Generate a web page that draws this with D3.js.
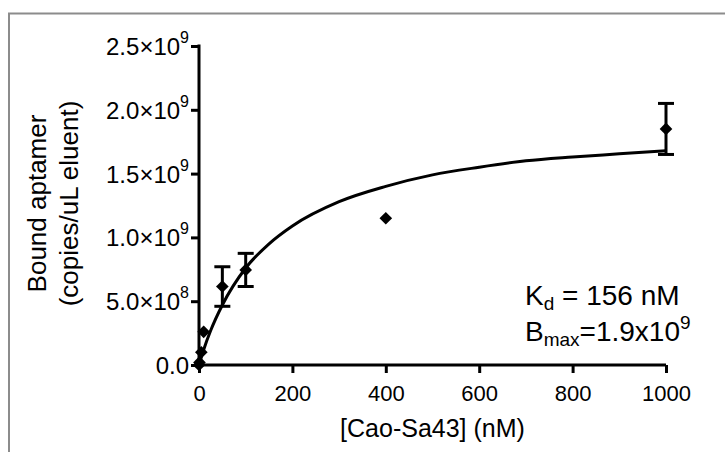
<!DOCTYPE html>
<html>
<head>
<meta charset="utf-8">
<script src="https://cdn.jsdelivr.net/npm/d3@7"></script>
<style>
  body { margin: 0; background: #fff; }
  text { font-family: "Liberation Sans", Arial, sans-serif; fill: #000; }
</style>
</head>
<body>
<div id="chart"></div>
<script>
// measured points: concentration (nM), mean bound aptamer, error (+/-)
const concNM = [0, 1, 5, 10, 50, 100, 400, 1000];
const boundMean = [0.0, 0.02e9, 0.1e9, 0.26e9, 0.615e9, 0.745e9, 1.15e9, 1.85e9];
const boundErr = [0, 0, 0, 0, 0.155e9, 0.13e9, 0, 0.2e9];

// fitted saturation curve
const fitX = [0, 10, 25, 50, 100, 150, 200, 300, 400, 500, 600, 700, 800, 900, 1000];
const fitY = [0, 0.12e9, 0.27e9, 0.47e9, 0.76e9, 0.95e9, 1.09e9, 1.28e9, 1.40e9, 1.49e9, 1.55e9, 1.60e9, 1.63e9, 1.655e9, 1.68e9];

// axis ticks
const xTicks = [0, 200, 400, 600, 800, 1000];
const yTicks = [0, 0.5e9, 1.0e9, 1.5e9, 2.0e9, 2.5e9];

const W = 725, H = 452;
const margin = {top: 46, right: 59, bottom: 87, left: 199};

const svg = d3.select("#chart").append("svg")
    .attr("width", W)
    .attr("height", H);

// gray outer frame
svg.append("rect")
    .attr("x", 9).attr("y", 13.5)
    .attr("width", 800).attr("height", 600)
    .attr("fill", "none")
    .attr("stroke", "#8c8c8c")
    .attr("stroke-width", 2);

const x = d3.scaleLinear().domain([0, 1000]).range([margin.left, W - margin.right]);
const y = d3.scaleLinear().domain([0, 2.5e9]).range([H - margin.bottom, margin.top]);

// x axis
const gx = svg.append("g")
    .attr("transform", `translate(0,${y(0)})`)
    .call(d3.axisBottom(x).tickValues(xTicks).tickFormat(d3.format("d"))
      .tickSize(8).tickSizeOuter(0).tickPadding(8));
gx.select(".domain").attr("stroke-width", 3).attr("d", `M${x(0) - 3},0H${x(1000)}`);
gx.selectAll(".tick line").attr("stroke-width", 3);
gx.selectAll(".tick text").attr("font-size", 22).attr("dy", "0.9em");

// y axis with scientific labels
const gy = svg.append("g")
    .attr("transform", `translate(${x(0)},0)`)
    .call(d3.axisLeft(y).tickValues(yTicks).tickSize(8).tickSizeOuter(0).tickPadding(2));
gy.select(".domain").attr("stroke-width", 3).attr("d", `M0,${y(2.5e9) - 1.5}V${y(0) + 1.5}`);
gy.selectAll(".tick line").attr("stroke-width", 3);
gy.selectAll(".tick text")
    .attr("font-size", 24)
    .attr("dy", "0.35em")
    .each(function (d) {
      const t = d3.select(this).text("");
      if (d === 0) { t.text("0.0"); return; }
      const exp = Math.floor(Math.log10(d));
      const mant = (d / Math.pow(10, exp)).toFixed(1);
      t.append("tspan").text(mant + "\u00d710");
      t.append("tspan").attr("font-size", 16).attr("dy", "-0.75em").text(exp);
    });

// axis titles
svg.append("text")
    .attr("x", (x(0) + x(1000)) / 2)
    .attr("y", 437)
    .attr("text-anchor", "middle")
    .attr("font-size", 25)
    .text("[Cao-Sa43] (nM)");

const yTitle = svg.append("text")
    .attr("transform", `translate(46,${(y(0) + y(2.5e9)) / 2 - 2}) rotate(-90)`)
    .attr("text-anchor", "middle")
    .attr("font-size", 26);
yTitle.append("tspan").attr("x", 0).attr("dy", 0).text("Bound aptamer");
yTitle.append("tspan").attr("x", 0).attr("dy", 32).text("(copies/uL eluent)");

// fit curve
const fitData = fitX.map((v, i) => ({x: v, y: fitY[i]}));
svg.append("path")
    .datum(fitData)
    .attr("fill", "none")
    .attr("stroke", "#000")
    .attr("stroke-width", 3)
    .attr("d", d3.line().x(d => x(d.x)).y(d => y(d.y)).curve(d3.curveMonotoneX));

// points with error bars
const pts = concNM.map((c, i) => ({c, m: boundMean[i], e: boundErr[i]}));
const capW = 8;
const eb = svg.append("g").attr("stroke", "#000").attr("stroke-width", 3);
pts.filter(d => d.e > 0).forEach(d => {
  eb.append("line").attr("x1", x(d.c)).attr("x2", x(d.c)).attr("y1", y(d.m - d.e)).attr("y2", y(d.m + d.e));
  eb.append("line").attr("x1", x(d.c) - capW).attr("x2", x(d.c) + capW).attr("y1", y(d.m + d.e)).attr("y2", y(d.m + d.e));
  eb.append("line").attr("x1", x(d.c) - capW).attr("x2", x(d.c) + capW).attr("y1", y(d.m - d.e)).attr("y2", y(d.m - d.e));
});

svg.append("g").selectAll("path")
  .data(pts)
  .join("path")
    .attr("transform", d => `translate(${x(d.c)},${y(d.m)}) rotate(45)`)
    .attr("d", d3.symbol(d3.symbolSquare, 80))
    .attr("fill", "#000");

// fit parameters
const ann = svg.append("g").attr("font-size", 28);
const l1 = ann.append("text").attr("x", 525).attr("y", 305);
l1.append("tspan").text("K");
l1.append("tspan").attr("font-size", 19).attr("dy", 5).text("d");
l1.append("tspan").attr("dy", -5).text(" = 156 nM");
const l2 = ann.append("text").attr("x", 525).attr("y", 341);
l2.append("tspan").text("B");
l2.append("tspan").attr("font-size", 19).attr("dy", 5).text("max");
l2.append("tspan").attr("dy", -5).text("=1.9x10");
l2.append("tspan").attr("font-size", 19).attr("dy", -12).text("9");
</script>
</body>
</html>
